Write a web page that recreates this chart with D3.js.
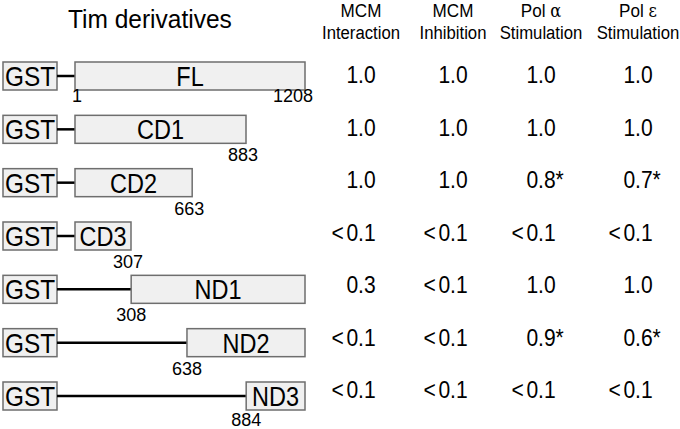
<!DOCTYPE html>
<html><head><meta charset="utf-8">
<script src="https://cdn.jsdelivr.net/npm/d3@7"></script>
<style>body{margin:0;background:#fff}svg{display:block}text{font-family:Arial,"Liberation Sans",Helvetica,sans-serif;fill:#000}</style>
</head><body><div id="chart"></div>
<script>
// ---- data ----
const constructs = ["FL","CD1","CD2","CD3","ND1","ND2","ND3"];
const startRes   = [1, 1, 1, 1, 308, 638, 884];
const endRes     = [1208, 883, 663, 307, 1208, 1208, 1208];
const startLabels = ["1", "", "", "", "308", "638", "884"];
const endLabels   = ["1208", "883", "663", "307", "", "", ""];
const columnLine1 = ["MCM", "MCM", "Pol ", "Pol "];
const columnGreek = ["", "", "α", "ε"];
const columnLine2 = ["Interaction", "Inhibition", "Stimulation", "Stimulation"];
const mcmInteraction = ["1.0","1.0","1.0","<0.1","0.3","<0.1","<0.1"];
const mcmInhibition  = ["1.0","1.0","1.0","<0.1","<0.1","<0.1","<0.1"];
const polAlphaStim   = ["1.0","1.0","0.8*","<0.1","1.0","0.9*","<0.1"];
const polEpsilonStim = ["1.0","1.0","0.7*","<0.1","1.0","0.6*","<0.1"];
const valueColumns = [mcmInteraction, mcmInhibition, polAlphaStim, polEpsilonStim];
const title = "Tim derivatives";
const tagLabel = "GST";

// ---- layout ----
const W = 680, H = 429;
const svg = d3.select("#chart").append("svg").attr("width", W).attr("height", H);
svg.append("rect").attr("width", W).attr("height", H).attr("fill", "#fff");

const y = d3.scalePoint().domain(constructs).range([76, 396]);
const yVal = d3.scalePoint().domain(constructs).range([83, 398]);
const x = d3.scaleLinear().domain([1, 307, 650, 883, 1208]).range([75, 131, 189, 246, 305]);
const colX = d3.scaleOrdinal().domain(d3.range(4)).range([361, 453, 541, 638]);
const boxH = 28;
const boxFill = "#f0f0f0", boxStroke = "#6e6e6e";

function sText(g, str, tx, ty, size, sx, anchor) {
  return g.append("text")
    .attr("transform", `translate(${tx},${ty}) scale(${sx},1)`)
    .attr("text-anchor", anchor || "middle")
    .attr("font-size", size)
    .text(str);
}

// title
sText(svg, title, 68, 28, 25, 0.98, "start");

// column headers
columnLine1.forEach((t, i) => {
  const tx = svg.append("text")
    .attr("transform", `translate(${colX(i)},17) scale(0.9,1)`)
    .attr("text-anchor", "middle").attr("font-size", 19);
  tx.append("tspan").text(t);
  if (columnGreek[i]) tx.append("tspan").attr("font-family", "'DejaVu Serif','Liberation Serif',serif").attr("font-size", 18).text(columnGreek[i]);
  sText(svg, columnLine2[i], colX(i), 39, 19, 0.88);
});

// construct rows
const rows = svg.selectAll("g.row").data(constructs).join("g").attr("class", "row");
rows.each(function(name, i) {
  const g = d3.select(this);
  const cy = y(name);
  const x0 = x(startRes[i]), x1 = x(endRes[i]);
  // GST tag
  g.append("rect").attr("x", 3).attr("y", cy - boxH / 2).attr("width", 54).attr("height", boxH)
    .attr("fill", boxFill).attr("stroke", boxStroke).attr("stroke-width", 1.5);
  sText(g, tagLabel, 30, cy + 10, 28, 0.87);
  // linker
  g.append("line").attr("x1", 57).attr("x2", x0).attr("y1", cy).attr("y2", cy)
    .attr("stroke", "#000").attr("stroke-width", 2.5);
  // domain box
  g.append("rect").attr("x", x0).attr("y", cy - boxH / 2).attr("width", x1 - x0).attr("height", boxH)
    .attr("fill", boxFill).attr("stroke", boxStroke).attr("stroke-width", 1.5);
  sText(g, name, (x0 + x1) / 2, cy + 10, 28, 0.84);
  // residue labels
  const ly = cy + (i === 0 ? 26 : (i === constructs.length - 1 ? 30 : 32));
  if (startLabels[i]) sText(g, startLabels[i], x0 + (i === 0 ? 2 : 0), ly, 18, 1);
  if (endLabels[i]) {
    if (i === 0) sText(g, endLabels[i], x1 + 8, ly, 18, 1, "end");
    else sText(g, endLabels[i], x1 - 3, ly, 18, 1);
  }
  // values
  valueColumns.forEach((col, c) => {
    const v = col[i];
    const prefix = v.startsWith("<") ? "<" : "";
    const suffix = v.endsWith("*") ? "*" : "";
    const num = v.replace("<", "").replace("*", "");
    const vg = g.append("g").attr("transform", `translate(${colX(c)},${yVal(name)}) scale(0.86,1)`);
    const t = vg.append("text").attr("text-anchor", "middle").attr("font-size", 24.5).text(num);
    const w = t.node().getComputedTextLength();
    if (prefix) vg.append("text").attr("text-anchor", "end").attr("x", -w / 2 - 3).attr("font-size", 24.5).text(prefix);
    if (suffix) vg.append("text").attr("text-anchor", "start").attr("x", w / 2).attr("font-size", 24.5).text(suffix);
  });
});
</script></body></html>
